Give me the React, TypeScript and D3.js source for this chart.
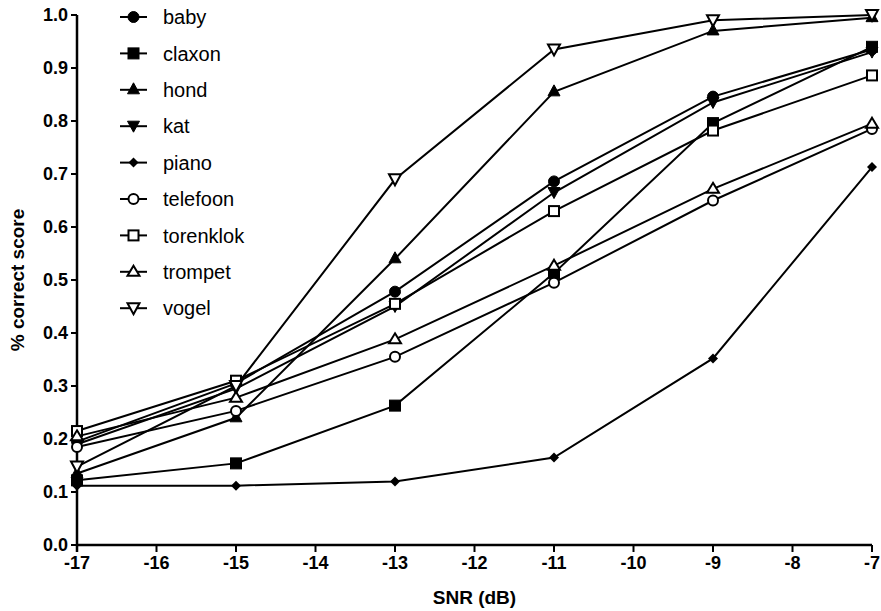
import React from 'react';
import * as d3 from 'd3';

// SNR levels (dB)
const snr = [-17, -15, -13, -11, -9, -7];

// % correct per word
const baby = [0.195, 0.305, 0.478, 0.686, 0.846, 0.935];
const claxon = [0.122, 0.154, 0.263, 0.513, 0.796, 0.94];
const hond = [0.135, 0.24, 0.54, 0.855, 0.97, 0.995];
const kat = [0.19, 0.295, 0.45, 0.665, 0.835, 0.93];
const piano = [0.112, 0.112, 0.12, 0.165, 0.352, 0.713];
const telefoon = [0.185, 0.253, 0.355, 0.495, 0.65, 0.785];
const torenklok = [0.215, 0.31, 0.455, 0.63, 0.782, 0.886];
const trompet = [0.205, 0.278, 0.388, 0.527, 0.672, 0.795];
const vogel = [0.148, 0.3, 0.69, 0.935, 0.99, 1.0];

const seriesNames = ['baby', 'claxon', 'hond', 'kat', 'piano', 'telefoon', 'torenklok', 'trompet', 'vogel'];
const seriesValues = [baby, claxon, hond, kat, piano, telefoon, torenklok, trompet, vogel];
const seriesMarkers = ['circle', 'square', 'up', 'down', 'diamond', 'circle', 'square', 'up', 'down'];
const seriesFilled = [true, true, true, true, true, false, false, false, false];

const yTicks = [0, 0.1, 0.2, 0.3, 0.4, 0.5, 0.6, 0.7, 0.8, 0.9, 1.0];
const xTicks = d3.range(-17, -6, 1);

const font = 'Liberation Sans, Arial, sans-serif';

function Marker({ type, filled, cx, cy }: { type: string; filled: boolean; cx: number; cy: number }) {
  const fill = filled ? '#000' : '#fff';
  const sw = filled ? 1 : 2;
  if (type === 'circle') return <circle cx={cx} cy={cy} r={filled ? 5.5 : 5} fill={fill} stroke="#000" strokeWidth={sw} />;
  if (type === 'square') {
    const s = filled ? 11 : 10;
    return <rect x={cx - s / 2} y={cy - s / 2} width={s} height={s} fill={fill} stroke="#000" strokeWidth={sw} />;
  }
  if (type === 'up') {
    const p = filled ? [[cx, cy - 7], [cx + 6, cy + 4], [cx - 6, cy + 4]] : [[cx, cy - 6], [cx + 6, cy + 4], [cx - 6, cy + 4]];
    return <polygon points={p.map(d => d.join(',')).join(' ')} fill={fill} stroke="#000" strokeWidth={sw} />;
  }
  if (type === 'down') {
    const p = [[cx, cy + 6], [cx + 6, cy - 5], [cx - 6, cy - 5]];
    return <polygon points={p.map(d => d.join(',')).join(' ')} fill={fill} stroke="#000" strokeWidth={sw} />;
  }
  const r = 5;
  return <polygon points={`${cx},${cy - r} ${cx + r},${cy} ${cx},${cy + r} ${cx - r},${cy}`} fill="#000" />;
}

export default function App() {
  const width = 881;
  const height = 611;

  const x = d3.scaleLinear().domain([-17, -7]).range([77, 872]);
  const y = d3.scaleLinear().domain([0, 1]).range([545, 15]);

  const line = d3.line<number>()
    .x((d, i) => x(snr[i]))
    .y(d => y(d));

  const legendX = 120;
  const legendY0 = 17;
  const legendStep = 36.4;

  return (
    <svg width={width} height={height} style={{ position: 'absolute', left: 0, top: 0 }} fontFamily={font}>
      <rect width={width} height={height} fill="#fff" />

      {/* axes */}
      <line x1={x(-17)} x2={x(-17)} y1={y(1)} y2={y(0) + 7} stroke="#000" strokeWidth={2.5} />
      <line x1={x(-17)} x2={x(-7)} y1={y(0)} y2={y(0)} stroke="#000" strokeWidth={2.5} />
      {yTicks.map(t => (
        <g key={'y' + t}>
          <line x1={x(-17) - 6} x2={x(-17)} y1={y(t)} y2={y(t)} stroke="#000" strokeWidth={2} />
          <text x={x(-17) - 9} y={y(t)} dy="0.36em" textAnchor="end" fontSize={18} fontWeight="bold">{t.toFixed(1)}</text>
        </g>
      ))}
      {xTicks.map(t => (
        <g key={'x' + t}>
          <line x1={x(t)} x2={x(t)} y1={y(0)} y2={y(0) + 7} stroke="#000" strokeWidth={2} />
          <text x={x(t)} y={y(0) + 24} textAnchor="middle" fontSize={18} fontWeight="bold">{t}</text>
        </g>
      ))}
      <text x={x(-12)} y={604} textAnchor="middle" fontSize={19} fontWeight="bold">SNR (dB)</text>
      <text transform={`translate(24, ${y(0.5)}) rotate(-90)`} textAnchor="middle" fontSize={19} fontWeight="bold">% correct score</text>

      {/* series */}
      {seriesValues.map((vals, k) => (
        <g key={seriesNames[k]}>
          <path d={line(vals) || ''} fill="none" stroke="#000" strokeWidth={2} />
          {vals.map((v, i) => (
            <Marker key={i} type={seriesMarkers[k]} filled={seriesFilled[k]} cx={x(snr[i])} cy={y(v)} />
          ))}
        </g>
      ))}

      {/* legend */}
      {seriesNames.map((name, k) => {
        const ly = legendY0 + k * legendStep;
        return (
          <g key={'lg' + name}>
            <line x1={legendX} x2={legendX + 27} y1={ly} y2={ly} stroke="#000" strokeWidth={2} />
            <Marker type={seriesMarkers[k]} filled={seriesFilled[k]} cx={legendX + 13.5} cy={ly} />
            <text x={163} y={ly} dy="0.36em" fontSize={20}>{name}</text>
          </g>
        );
      })}
    </svg>
  );
}
